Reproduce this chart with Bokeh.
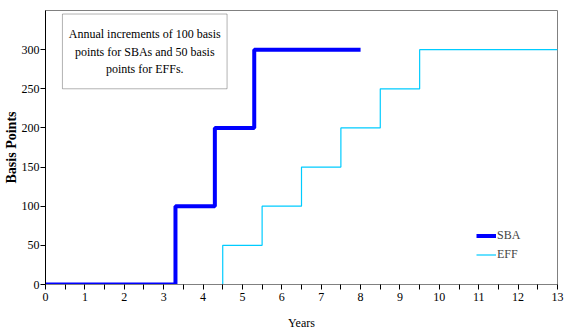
from bokeh.plotting import figure
from bokeh.models import Range1d, FixedTicker, BoxAnnotation, Label, Legend, LegendItem
from bokeh.embed import file_html
from bokeh.resources import INLINE

# Data
sba_years = [0, 3.3, 4.3, 5.3, 8]
sba_bp = [0, 100, 200, 300, 300]
eff_years = [4.5, 4.5, 5.5, 6.5, 7.5, 8.5, 9.5, 13]
eff_bp = [0, 50, 100, 150, 200, 250, 300, 300]
x_ticks = list(range(0, 14))
x_minor = [i + 0.5 for i in range(0, 13)]
y_ticks = [0, 50, 100, 150, 200, 250, 300]
note_lines = ["Annual increments of 100 basis", "points for SBAs and 50 basis", "points for EFFs."]
y_title = "Basis Points"
x_title = "Years"

FONT = "Liberation Serif"

p = figure(width=566, height=332, output_backend="svg", toolbar_location=None,
           x_range=Range1d(0, 13), y_range=Range1d(0, 350),
           min_border_left=44, min_border_right=9, min_border_top=10, min_border_bottom=48)
p.grid.visible = False
p.outline_line_color = "#808080"
p.outline_line_width = 1
p.background_fill_color = "white"
p.border_fill_color = "white"

r_sba = p.step(sba_years, sba_bp, mode="after", line_color="#0000FF", line_width=4)
r_eff = p.step(eff_years, eff_bp, mode="after", line_color="#00CCFF", line_width=1.2)

xa = p.xaxis[0]
xa.ticker = FixedTicker(ticks=x_ticks, minor_ticks=x_minor)
xa.axis_line_color = "#808080"
xa.major_tick_line_color = "black"
xa.minor_tick_line_color = "black"
xa.major_tick_out = 5
xa.major_tick_in = 0
xa.minor_tick_out = 5
xa.minor_tick_in = 0
xa.major_label_standoff = 3
xa.major_label_text_font = FONT
xa.major_label_text_font_size = "12px"
xa.major_label_text_color = "black"
xa.axis_label = x_title
xa.axis_label_text_font = FONT
xa.axis_label_text_font_size = "12px"
xa.axis_label_text_font_style = "normal"
xa.axis_label_text_color = "black"
xa.axis_label_standoff = 12

ya = p.yaxis[0]
ya.ticker = FixedTicker(ticks=y_ticks, minor_ticks=[])
ya.axis_line_color = "black"
ya.major_tick_line_color = "black"
ya.major_tick_out = 5
ya.major_tick_in = 0
ya.minor_tick_out = 0
ya.minor_tick_in = 0
ya.major_label_standoff = 1
ya.major_label_text_font = FONT
ya.major_label_text_font_size = "12px"
ya.major_label_text_color = "black"
ya.axis_label = y_title
ya.axis_label_text_font = FONT
ya.axis_label_text_font_size = "14px"
ya.axis_label_text_font_style = "bold"
ya.axis_label_text_color = "black"
ya.axis_label_standoff = 0

# Annotation box
box = BoxAnnotation(left=0.43, right=4.61, top=345.5, bottom=250,
                    fill_color="white", fill_alpha=1.0, line_color="black", line_width=1)
p.add_layout(box)
for line, yv in zip(note_lines, [319.5, 297, 275]):
    p.add_layout(Label(x=2.52, y=yv, text=line, text_align="center", text_baseline="middle",
                       text_font=FONT, text_font_size="12px", text_color="black"))

legend = Legend(items=[LegendItem(label="SBA", renderers=[r_sba]),
                       LegendItem(label="EFF", renderers=[r_eff])],
                location=(431, 20), border_line_color=None, background_fill_alpha=0,
                padding=0, margin=0, spacing=0, glyph_width=20, glyph_height=19,
                label_standoff=1, label_text_font=FONT, label_text_font_size="12px",
                label_height=19)
p.add_layout(legend)

open("out.html", "w").write(file_html(p, INLINE))
